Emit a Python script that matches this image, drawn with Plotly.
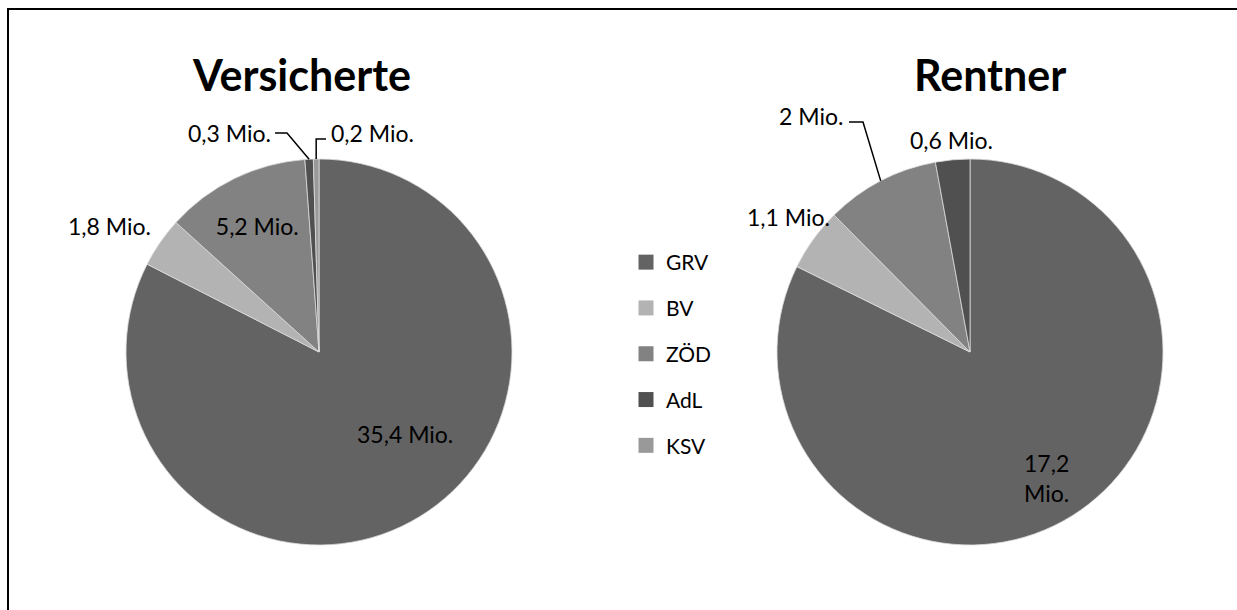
import math
import plotly.graph_objects as go

categories = ["GRV", "BV", "ZÖD", "AdL", "KSV"]
colors = ["#636363", "#b3b3b3", "#828282", "#505050", "#999999"]

versicherte_values = [35.4, 1.8, 5.2, 0.3, 0.2]
rentner_cats = ["GRV", "BV", "ZÖD", "AdL"]
rentner_values = [17.2, 1.1, 2, 0.6]

titles = ["Versicherte", "Rentner"]

FONT = "Lato"
W, H = 1237, 610
R = 193
CENTERS = [(319, 352), (970, 352)]


def fmt(v):
    return f"{v:g}".replace(".", ",") + " Mio."


def px(x):
    return x / W


def py(y):
    return 1 - y / H


def edge_point(values, idx, center):
    """Point on the pie rim at the middle angle of slice idx (clockwise from top)."""
    total = sum(values)
    frac = (sum(values[:idx]) + values[idx] / 2) / total
    a = 2 * math.pi * frac
    cx, cy = center
    return cx + R * math.sin(a), cy - R * math.cos(a)


fig = go.Figure()

v_text = [fmt(v) for v in versicherte_values]
r_text = [fmt(v) for v in rentner_values]
r_text[0] = r_text[0].replace(" ", "<br>")

v_pos = ["none", "none", "inside", "none", "none"]
r_pos = ["none", "none", "none", "none"]

for vals, labs, txt, pos, (cx, cy) in [
    (versicherte_values, categories, v_text, v_pos, CENTERS[0]),
    (rentner_values, rentner_cats, r_text, r_pos, CENTERS[1]),
]:
    fig.add_trace(go.Pie(
        labels=labs, values=vals, text=txt,
        textinfo="text", textposition=pos, sort=False,
        direction="clockwise", rotation=0,
        marker=dict(colors=colors[:len(vals)], line=dict(color="#dcdcdc", width=0.8)),
        domain=dict(x=[px(cx - R), px(cx + R)], y=[py(cy + R), py(cy - R)]),
        textfont=dict(family=FONT, size=23, color="black"),
        insidetextorientation="horizontal",
        showlegend=False, hoverinfo="label+value",
    ))

# legend entries
for c, col in zip(categories, colors):
    fig.add_trace(go.Scatter(
        x=[None], y=[None], mode="markers", name=c, legendgroup=c,
        marker=dict(symbol="square", size=15, color=col),
    ))

annotations = [
    dict(text=f"<b>{titles[0]}</b>", x=px(301), y=py(74)),
    dict(text=f"<b>{titles[1]}</b>", x=px(990), y=py(74)),
]
for a in annotations:
    a.update(xref="paper", yref="paper", showarrow=False, yanchor="middle",
             xanchor="center", font=dict(family=FONT, size=43, color="black"))

lab_font = dict(family=FONT, size=23, color="black")
shapes = []


def add_label(text, x, y, xanchor):
    annotations.append(dict(text=text, x=px(x), y=py(y), xref="paper", yref="paper",
                            showarrow=False, xanchor=xanchor, yanchor="middle",
                            font=lab_font))


def add_leader(points):
    path = "M " + " L ".join(f"{px(x)},{py(y)}" for x, y in points)
    shapes.append(dict(type="path", xref="paper", yref="paper", path=path,
                       line=dict(color="black", width=1.5)))


# Versicherte labels
add_label(v_text[0], 405, 434, "center")                     # GRV
add_label(v_text[1], 153, 226, "right")                      # BV
ex, ey = edge_point(versicherte_values, 3, CENTERS[0])          # AdL
add_leader([(ex, ey), (287, 133), (275, 133)])
add_label(v_text[3], 273, 133, "right")
ex, ey = edge_point(versicherte_values, 4, CENTERS[0])          # KSV
add_leader([(ex, ey), (ex, 139), (326, 139)])
add_label(v_text[4], 329, 133, "left")

# Rentner labels
add_label(r_text[0], 1046, 478, "center")                    # GRV
add_label(r_text[1], 832, 217, "right")                      # BV
ex, ey = edge_point(rentner_values, 2, CENTERS[1])              # ZÖD
add_leader([(ex, ey), (863, 122), (849, 122)])
add_label(r_text[2], 845, 116, "right")
add_label(r_text[3], 951, 140, "center")                     # AdL

# frame
shapes.append(dict(type="rect", xref="paper", yref="paper",
                   x0=px(8), x1=1.01, y0=-0.01, y1=py(9),
                   line=dict(color="black", width=2), layer="above"))

fig.update_layout(
    width=W, height=H,
    margin=dict(l=0, r=0, t=0, b=0),
    paper_bgcolor="white", plot_bgcolor="white",
    xaxis=dict(visible=False), yaxis=dict(visible=False),
    font=dict(family=FONT, size=22, color="black"),
    legend=dict(x=px(626), xanchor="left", y=py(242), yanchor="top",
                font=dict(family=FONT, size=21, color="black"),
                tracegroupgap=15.5, bgcolor="rgba(0,0,0,0)",
                itemsizing="trace"),
    showlegend=True,
    annotations=annotations,
    shapes=shapes,
)

fig.write_html("out.html", config={"displayModeBar": False},
               post_script="document.body.style.margin='0';")
